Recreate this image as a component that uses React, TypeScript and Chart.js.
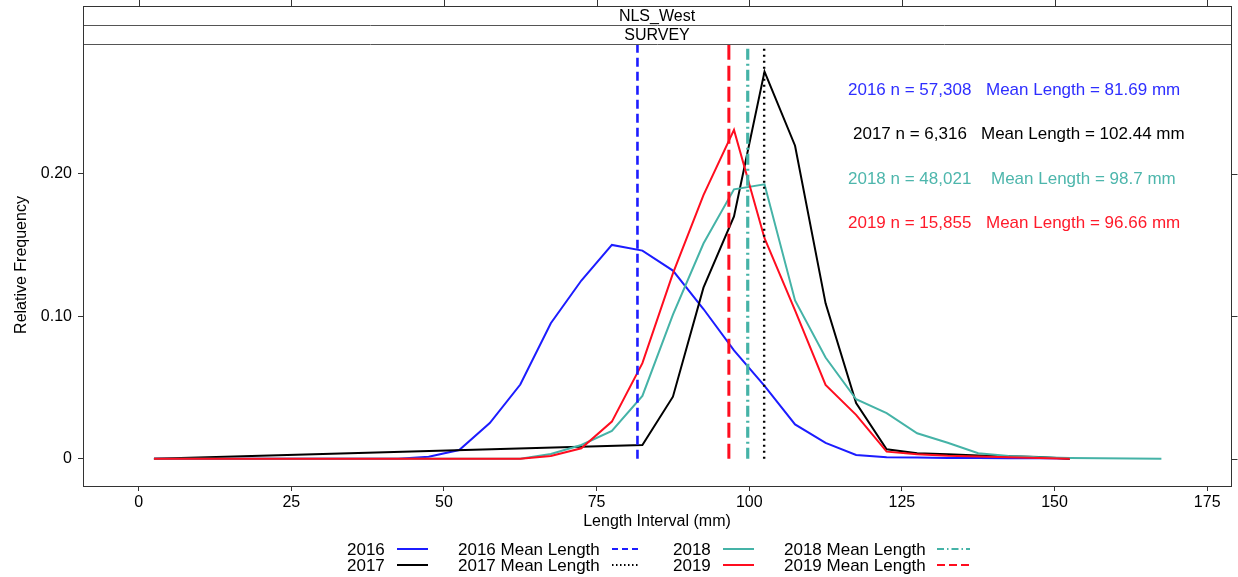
import React, { useEffect, useRef } from "react";
import { Chart, registerables } from "chart.js";

Chart.register(...registerables);

// ---------------- DATA ----------------
const lengthMidpoints = [
  2.5, 7.5, 12.5, 17.5, 22.5, 27.5, 32.5, 37.5, 42.5, 47.5, 52.5, 57.5, 62.5, 67.5, 72.5, 77.5, 82.5,
  87.5, 92.5, 97.5, 102.5, 107.5, 112.5, 117.5, 122.5, 127.5, 132.5, 137.5, 142.5, 147.5, 152.5,
  157.5, 162.5, 167.5,
];

const freq2016 = [
  0, 0, 0, 0, 0, 0, 0, 0, 0, 0.0014, 0.006, 0.025, 0.052, 0.095, 0.125, 0.15, 0.146, 0.132, 0.105,
  0.076, 0.051, 0.024, 0.011, 0.0026, 0.001, 0.0008, 0.0005, 0.0004, 0.0003, 0.0002, 0.0001, null,
  null, null,
];
const freq2017 = [
  0, null, null, null, null, null, null, null, null, null, null, null, null, null, null, null,
  0.0095, 0.0435, 0.12, 0.17, 0.2716, 0.2196, 0.109, 0.039, 0.0066, 0.0038, 0.003, 0.0022, 0.0016,
  0.0012, 0, null, null, null,
];
const freq2018 = [
  0, 0, 0, 0, 0, 0, 0, 0, 0, 0, 0, 0, 0, 0.0033, 0.0096, 0.0194, 0.044, 0.101, 0.151, 0.189, 0.1925,
  0.111, 0.071, 0.0417, 0.0319, 0.0178, 0.0112, 0.0038, 0.0019, 0.001, 0.0005, 0.0002, 0.0001, 0,
];
const freq2019 = [
  0, 0, 0, 0, 0, 0, 0, 0, 0, 0, 0, 0, 0, 0.0019, 0.0073, 0.026, 0.067, 0.13, 0.185, 0.2307, 0.1547,
  0.104, 0.0517, 0.0307, 0.0049, 0.0031, 0.002, 0.0015, 0.001, 0.0005, 0, null, null, null,
];

const years = ["2016", "2017", "2018", "2019"];
const sampleSizes = ["57,308", "6,316", "48,021", "15,855"];
const meanLengthLabels = ["81.69", "102.44", "98.7", "96.66"];
// positions of the vertical mean lines as drawn in the picture
const meanLinePositions = [81.69, 102.44, 99.75, 96.66];

const xTickValues = [0, 25, 50, 75, 100, 125, 150, 175];
const yTickValues = [0, 0.1, 0.2];
const yTickLabels = ["0", "0.10", "0.20"];

const panelTitle = "NLS_West";
const stripTitle = "SURVEY";
const xAxisTitle = "Length Interval (mm)";
const yAxisTitle = "Relative Frequency";

// ---------------- STYLE / LAYOUT ----------------
const FONT = "'Liberation Sans', Arial, sans-serif";
const X_MIN = -9.12;
const X_MAX = 178.9;
const Y_MIN = -0.0192;
const Y_MAX = 0.291;

const lineColors = ["#1c1cff", "#000000", "#45b3a7", "#ff0d1f"];
const textColors = ["#2e2eff", "#000000", "#4db6ac", "#ff1a2a"];
const meanDash = [[9, 5], [2, 4], [11, 4, 2, 4], [15, 6]];
const meanWidth = [2.6, 2.4, 3.2, 3];
const legendDash = [[6, 4], [1.5, 2.5], [7, 3, 1.5, 3], [8, 4]];

const series = [freq2016, freq2017, freq2018, freq2019];

function toPoints(values: (number | null)[]) {
  return lengthMidpoints
    .map((x, i) => ({ x, y: values[i] }))
    .filter((p) => p.y !== null && p.y !== undefined);
}

const decorPlugin = {
  id: "decor",
  afterDraw(chart: any) {
    const { ctx, chartArea: ca, scales } = chart;
    const xs = scales.x;
    const ys = scales.y;
    const frameTop = 6;
    const strip1 = 25;
    const strip2 = 44;
    const left = Math.round(ca.left) + 0.5;
    const right = Math.round(ca.right) + 0.5;
    const bottom = Math.round(ca.bottom) + 0.5;
    ctx.save();

    // strips
    ctx.fillStyle = "#ffffff";
    ctx.fillRect(left, frameTop, right - left, strip2 - frameTop);
    ctx.strokeStyle = "#555555";
    ctx.lineWidth = 1;
    ctx.beginPath();
    ctx.moveTo(left, strip1 + 0.5);
    ctx.lineTo(right, strip1 + 0.5);
    ctx.moveTo(left, strip2 + 0.5);
    ctx.lineTo(right, strip2 + 0.5);
    ctx.stroke();

    ctx.fillStyle = "#000000";
    ctx.font = `16px ${FONT}`;
    ctx.textAlign = "center";
    ctx.textBaseline = "middle";
    const cx = (ca.left + ca.right) / 2;
    ctx.fillText(panelTitle, cx, 16.5);
    ctx.fillText(stripTitle, cx, 35.5);

    // frame
    ctx.strokeStyle = "#333333";
    ctx.strokeRect(left, frameTop + 0.5, right - left, bottom - frameTop - 0.5);

    // mirrored ticks (top and right)
    ctx.beginPath();
    xTickValues.forEach((v) => {
      const px = Math.round(xs.getPixelForValue(v)) + 0.5;
      ctx.moveTo(px, 0);
      ctx.lineTo(px, frameTop);
    });
    yTickValues.forEach((v) => {
      const py = Math.round(ys.getPixelForValue(v)) + 0.5;
      ctx.moveTo(right, py);
      ctx.lineTo(right + 6, py);
    });
    ctx.stroke();

    // annotations
    ctx.font = `17px ${FONT}`;
    ctx.textAlign = "left";
    ctx.textBaseline = "middle";
    const annX1 = [848, 853, 848, 848];
    const annX2 = [986, 981, 991, 986];
    const annY = [90, 134, 179, 223];
    years.forEach((yr, i) => {
      ctx.fillStyle = textColors[i];
      ctx.fillText(`${yr} n = ${sampleSizes[i]}`, annX1[i], annY[i]);
      ctx.fillText(`Mean Length = ${meanLengthLabels[i]} mm`, annX2[i], annY[i]);
    });

    // legend
    ctx.font = `17px ${FONT}`;
    ctx.fillStyle = "#000000";
    const rowY = [550, 566];
    const yearIdx = [
      [0, 1],
      [2, 3],
    ];
    const groupX = [
      { t1: 347, s1: [397, 428], t2: 458, s2: [612, 640] },
      { t1: 673, s1: [723, 754], t2: 784, s2: [937, 970] },
    ];
    groupX.forEach((g, gi) => {
      yearIdx[gi].forEach((idx, r) => {
        const y = rowY[r];
        ctx.fillStyle = "#000000";
        ctx.fillText(years[idx], g.t1, y);
        ctx.fillText(`${years[idx]} Mean Length`, g.t2, y);
        ctx.strokeStyle = lineColors[idx];
        ctx.lineWidth = 2;
        ctx.setLineDash([]);
        ctx.beginPath();
        ctx.moveTo(g.s1[0], y - 1);
        ctx.lineTo(g.s1[1], y - 1);
        ctx.stroke();
        ctx.setLineDash(legendDash[idx]);
        ctx.beginPath();
        ctx.moveTo(g.s2[0], y - 1);
        ctx.lineTo(g.s2[1], y - 1);
        ctx.stroke();
        ctx.setLineDash([]);
      });
    });
    ctx.restore();
  },
};

export default function App() {
  const canvasRef = useRef<HTMLCanvasElement | null>(null);

  useEffect(() => {
    if (!canvasRef.current) return;
    const curveSets = series.map((vals, i) => ({
      label: years[i],
      data: toPoints(vals),
      borderColor: lineColors[i],
      borderWidth: 2,
      pointRadius: 0,
      tension: 0,
      fill: false,
      order: 4 - i + 1,
    }));
    const meanSets = meanLinePositions.map((m, i) => ({
      label: `${years[i]} Mean Length`,
      data: [
        { x: m, y: 0 },
        { x: m, y: Y_MAX },
      ],
      borderColor: lineColors[i],
      borderWidth: meanWidth[i],
      borderDash: meanDash[i],
      pointRadius: 0,
      tension: 0,
      fill: false,
      order: 0,
    }));

    const chart = new Chart(canvasRef.current, {
      type: "line",
      data: { datasets: [...curveSets, ...meanSets] as any },
      options: {
        responsive: false,
        animation: false,
        events: [],
        layout: { padding: { top: 44, right: 7, bottom: 40, left: 0 } },
        plugins: { legend: { display: false }, tooltip: { enabled: false } },
        scales: {
          x: {
            type: "linear",
            min: X_MIN,
            max: X_MAX,
            afterBuildTicks: (s: any) => {
              s.ticks = xTickValues.map((v) => ({ value: v }));
            },
            afterFit: (s: any) => {
              s.height = 51;
            },
            ticks: {
              autoSkip: false,
              maxRotation: 0,
              padding: 2,
              color: "#000000",
              font: { family: FONT, size: 16 },
              callback: (v: any) => String(v),
            },
            grid: {
              display: true,
              drawOnChartArea: false,
              drawTicks: true,
              tickLength: 5,
              tickColor: "#333333",
            },
            border: { display: false },
            title: {
              display: true,
              text: xAxisTitle,
              color: "#000000",
              font: { family: FONT, size: 16 },
              padding: { top: 0, bottom: 6 },
            },
          },
          y: {
            type: "linear",
            min: Y_MIN,
            max: Y_MAX,
            afterBuildTicks: (s: any) => {
              s.ticks = yTickValues.map((v) => ({ value: v }));
            },
            afterFit: (s: any) => {
              s.width = 83;
            },
            ticks: {
              autoSkip: false,
              padding: 6,
              color: "#000000",
              font: { family: FONT, size: 16 },
              callback: (v: any) => {
                const i = yTickValues.findIndex((t) => Math.abs(t - v) < 1e-9);
                return i >= 0 ? yTickLabels[i] : "";
              },
            },
            grid: {
              display: true,
              drawOnChartArea: false,
              drawTicks: true,
              tickLength: 5,
              tickColor: "#333333",
            },
            border: { display: false },
            title: {
              display: true,
              text: yAxisTitle,
              color: "#000000",
              font: { family: FONT, size: 16 },
              padding: { top: 12, bottom: 0 },
            },
          },
        },
      },
      plugins: [decorPlugin],
    } as any);
    return () => chart.destroy();
  }, []);

  return (
    <div style={{ position: "fixed", left: 0, top: 0, width: 1238, height: 577, background: "#ffffff" }}>
      <canvas ref={canvasRef} width={1238} height={577} style={{ display: "block" }} />
    </div>
  );
}
